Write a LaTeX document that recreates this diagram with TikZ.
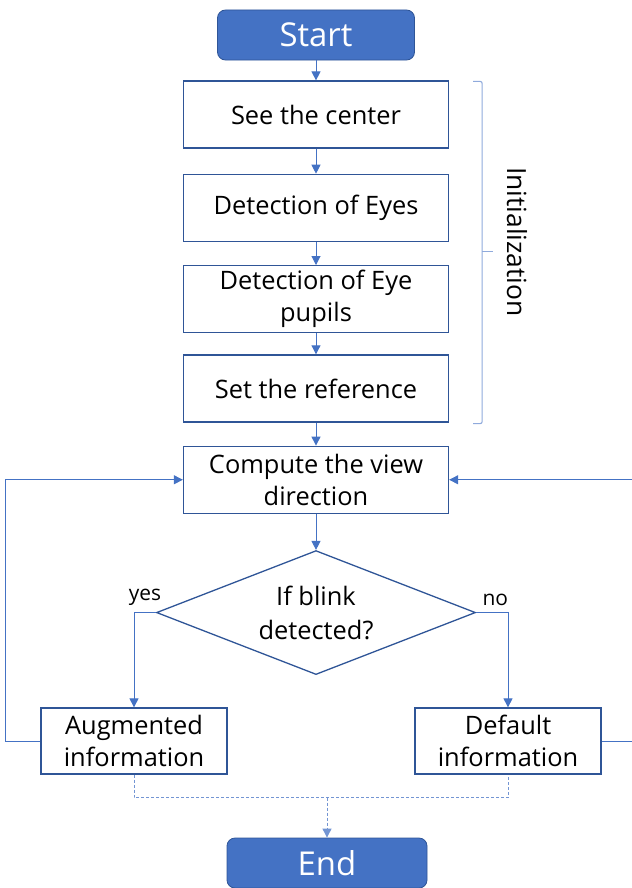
\documentclass[tikz,border=0pt]{standalone}
\usepackage{fontspec}
\setmainfont{Open Sans}
\usepackage{xcolor}
\usepackage{tikz}
\usetikzlibrary{arrows.meta,positioning,shapes.geometric,calc}
\definecolor{startblue}{HTML}{4472C4}
\definecolor{edgeblue}{HTML}{2F5597}
\definecolor{linkblue}{HTML}{4472C4}
\definecolor{lightblue}{HTML}{8FAADC}

\begin{document}
\begin{tikzpicture}[
    x=1bp, y=-1bp,
    node distance=22bp,%boxes stacked with small gaps
    terminal/.style={
        % The shape:
        rectangle,
        minimum width=197bp,
        minimum height=50bp,
        rounded corners=8bp,
        % The fill
        draw=edgeblue,
        line width=0.8bp,
        fill=startblue,
        % The fonts
        text=white,
        font=\fontsize{33}{38}\selectfont},
    process/.style={
        rectangle,
        minimum width=265bp,
        minimum height=67bp,
        inner sep=2bp,
        draw=edgeblue,
        line width=1.3bp,
        align=center,
        font=\fontsize{25.5}{32}\selectfont},
    decision/.style={
        diamond,
        shape aspect=2.6,
        minimum width=319bp,
        minimum height=124bp,
        inner sep=0pt,
        draw=edgeblue,
        line width=1.3bp,
        align=center,
        font=\fontsize{25.5}{34}\selectfont},
    flow/.style={
        draw=linkblue,
        line width=1bp,
        -{Triangle[length=9bp,width=9bp]}},
    dotline/.style={
        draw=linkblue!75,
        line width=0.9bp,
        dash pattern=on 3bp off 2bp},
    bracket/.style={
        draw=lightblue,
        line width=1.1bp},
    answer/.style={font=\fontsize{21}{24}\selectfont}]
  \clip (0,0) rectangle (632,888);
  \useasboundingbox (0,0) rectangle (632,888);%绘制主流程
  \node (start) [terminal] at (316,35) {Start};
  \node (center) [process, below=20bp of start] {See the center};
  \node (eyes) [process, below=25bp of center] {Detection of Eyes};
  \node (pupils) [process, below=23bp of eyes] {Detection of Eye\\pupils};
  \node (ref) [process, below=21bp of pupils] {Set the reference};
  \node (view) [process, below=23bp of ref] {Compute the view\\direction};
  \node (blink) [decision, below=36bp of view] {If blink\\detected?};
  \node (aug) [process, minimum width=186bp, minimum height=66bp] at (134,741) {Augmented\\information};
  \node (default) [process, minimum width=186bp, minimum height=66bp] at (508,741) {Default\\information};
  \node (end) [terminal, minimum width=200bp] at (327,863) {End};
  % initialization bracket
  \draw [bracket, rounded corners=2bp] ($(center.north east)+(24,1)$) -| ($(center.north east)+(33,171)$) coordinate (tip) |- ($(ref.south east)+(24,1)$);
  \draw [bracket] (tip) -- ++(11,0);
  \node (init) [rotate=-90, font=\fontsize{26.5}{30}\selectfont] at (517,242) {Initialization};
  % arrows
  \draw [flow] (start) -- (center);
  \draw [flow] (center) -- (eyes);
  \draw [flow] (eyes) -- (pupils);
  \draw [flow] (pupils) -- (ref);
  \draw [flow] (ref) -- (view);
  \draw [flow] (view) -- (blink);
  \draw [flow] (blink.west) -| node[answer, pos=0.25, above=3bp] {yes} (aug.north);
  \draw [flow] (blink.east) -| node[answer, pos=0.3, above=3bp] {no} (default.north);
  \draw [flow] (aug.west) -- ++(-35,0) |- (view.west);
  \draw [flow] (default.east) -- ++(50,0) |- (view.east);
  \draw [dotline] (aug.south) -- ++(0,23) coordinate (join) -| (default.south);
  \draw [dotline, -{Triangle[length=9bp,width=9bp]}] (join -| end.north) -- (end.north);
\end{tikzpicture}
\end{document}
